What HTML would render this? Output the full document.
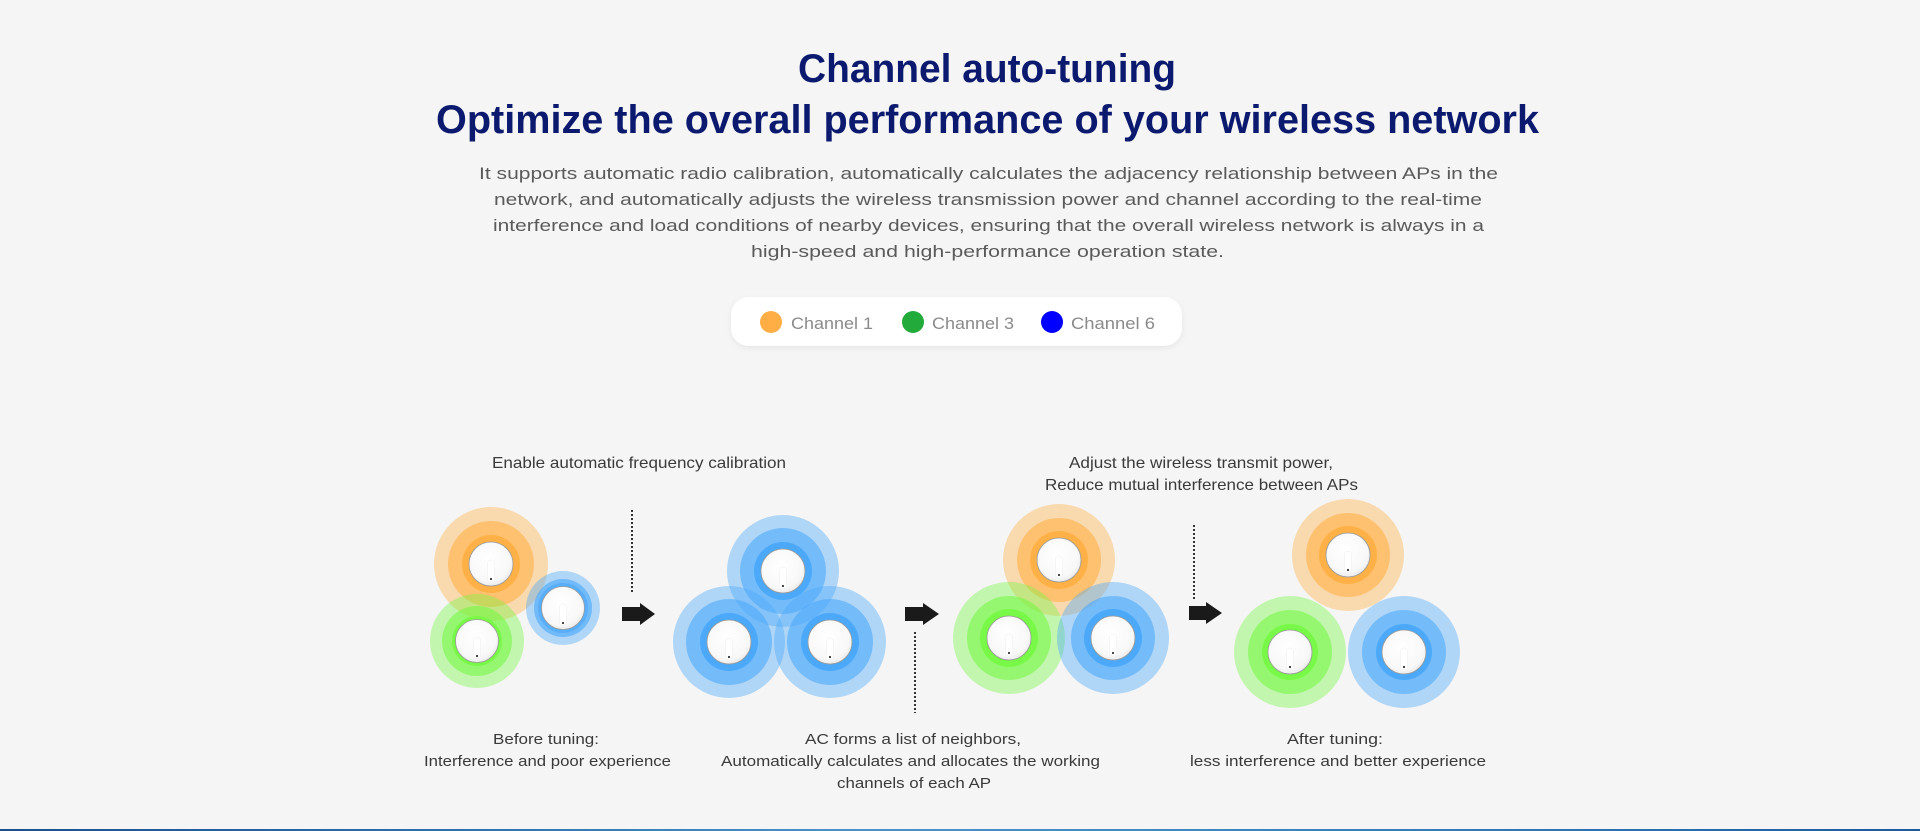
<!DOCTYPE html>
<html>
<head>
<meta charset="utf-8">
<style>
  html, body { margin: 0; padding: 0; }
  body { width: 1920px; height: 831px; overflow: hidden; background: #f5f5f5; position: relative; }
  svg { position: absolute; left: 0; top: 0; }
  .bar { position: absolute; left: 0; top: 829px; width: 1920px; height: 2px;
    background: linear-gradient(90deg, #1b4f90 0%, #2f72b0 25%, #4a93c8 45%, #3a86c0 65%, #2a70b0 85%, #1c5a9c 100%); }
</style>
</head>
<body>
<svg width="1920" height="831" viewBox="0 0 1920 831" xmlns="http://www.w3.org/2000/svg">
  <defs>
    <radialGradient id="dg" cx="45%" cy="40%" r="65%">
      <stop offset="0" stop-color="#ffffff"/>
      <stop offset="0.75" stop-color="#f8f8f8"/>
      <stop offset="1" stop-color="#e6e6e6"/>
    </radialGradient>
    <filter id="sh" x="-10%" y="-30%" width="120%" height="160%">
      <feDropShadow dx="0" dy="2" stdDeviation="3" flood-color="#000" flood-opacity="0.06"/>
    </filter>
  </defs>

  <!-- Title -->
  <g font-family="Liberation Sans, sans-serif" font-weight="bold" fill="#0b1a6e">
    <text x="798" y="82" font-size="40" textLength="378" lengthAdjust="spacingAndGlyphs">Channel auto-tuning</text>
    <text x="436" y="133" font-size="40" textLength="1103" lengthAdjust="spacingAndGlyphs">Optimize the overall performance of your wireless network</text>
  </g>

  <!-- Paragraph -->
  <g font-family="Liberation Sans, sans-serif" font-size="17" fill="#5a5a5a">
    <text x="479" y="179" textLength="1019" lengthAdjust="spacingAndGlyphs">It supports automatic radio calibration, automatically calculates the adjacency relationship between APs in the</text>
    <text x="494" y="205" textLength="988" lengthAdjust="spacingAndGlyphs">network, and automatically adjusts the wireless transmission power and channel according to the real-time</text>
    <text x="493" y="231" textLength="991" lengthAdjust="spacingAndGlyphs">interference and load conditions of nearby devices, ensuring that the overall wireless network is always in a</text>
    <text x="751" y="257" textLength="473" lengthAdjust="spacingAndGlyphs">high-speed and high-performance operation state.</text>
  </g>

  <!-- Legend -->
  <rect x="731" y="297" width="451" height="49" rx="18" ry="18" fill="#ffffff" filter="url(#sh)"/>
  <circle cx="771" cy="322" r="11" fill="#ffad45"/>
  <circle cx="913" cy="322" r="11" fill="#22aa3a"/>
  <circle cx="1052" cy="322" r="11" fill="#0000ff"/>
  <g font-family="Liberation Sans, sans-serif" font-size="17" fill="#8a8a8a">
    <text x="791" y="329" textLength="82" lengthAdjust="spacingAndGlyphs">Channel 1</text>
    <text x="932" y="329" textLength="82" lengthAdjust="spacingAndGlyphs">Channel 3</text>
    <text x="1071" y="329" textLength="84" lengthAdjust="spacingAndGlyphs">Channel 6</text>
  </g>

  <!-- Step labels -->
  <g font-family="Liberation Sans, sans-serif" font-size="16" fill="#3a3a3a">
    <text x="492" y="468" textLength="294" lengthAdjust="spacingAndGlyphs">Enable automatic frequency calibration</text>
    <text x="1069" y="468" textLength="264" lengthAdjust="spacingAndGlyphs">Adjust the wireless transmit power,</text>
    <text x="1045" y="490" textLength="313" lengthAdjust="spacingAndGlyphs">Reduce mutual interference between APs</text>
  </g>
  <g font-family="Liberation Sans, sans-serif" font-size="15" fill="#3a3a3a">
    <text x="493" y="744" textLength="106" lengthAdjust="spacingAndGlyphs">Before tuning:</text>
    <text x="424" y="766" textLength="247" lengthAdjust="spacingAndGlyphs">Interference and poor experience</text>
    <text x="805" y="744" textLength="216" lengthAdjust="spacingAndGlyphs">AC forms a list of neighbors,</text>
    <text x="721" y="766" textLength="379" lengthAdjust="spacingAndGlyphs">Automatically calculates and allocates the working</text>
    <text x="837" y="788" textLength="154" lengthAdjust="spacingAndGlyphs">channels of each AP</text>
    <text x="1287" y="744" textLength="96" lengthAdjust="spacingAndGlyphs">After tuning:</text>
    <text x="1190" y="766" textLength="296" lengthAdjust="spacingAndGlyphs">less interference and better experience</text>
  </g>

  <!-- Dotted lines -->
  <g stroke="#333" stroke-width="2" stroke-dasharray="2 2" fill="none">
    <line x1="632" y1="510" x2="632" y2="594"/>
    <line x1="915" y1="632" x2="915" y2="713"/>
    <line x1="1194" y1="525" x2="1194" y2="601"/>
  </g>

  <!-- Arrows -->
  <g fill="#1a1a1a">
    <path d="M622 607 H640 V603 L655 614 L640 625 V621 H622 Z"/>
    <path d="M905 607 H923 V603 L939 614 L923 625 V621 H905 Z"/>
    <path d="M1189 606 H1206 V602 L1222 613 L1206 624 V620 H1189 Z"/>
  </g>

  <!-- Scene 1 rings -->
  <g fill="rgb(255,175,67)">
    <circle cx="491" cy="564" r="57" fill-opacity="0.4"/>
    <circle cx="491" cy="564" r="43" fill-opacity="0.58"/>
    <circle cx="491" cy="564" r="29" fill-opacity="0.9"/>
  </g>
  <g fill="rgb(117,248,67)">
    <circle cx="477" cy="641" r="47" fill-opacity="0.4"/>
    <circle cx="477" cy="641" r="35" fill-opacity="0.58"/>
    <circle cx="477" cy="641" r="25" fill-opacity="0.9"/>
  </g>
  <g fill="rgb(72,167,250)">
    <circle cx="563" cy="608" r="37" fill-opacity="0.4"/>
    <circle cx="563" cy="608" r="29" fill-opacity="0.6"/>
    <circle cx="563" cy="608" r="25" fill-opacity="0.6"/>
  </g>

  <!-- Scene 2 rings -->
  <g fill="rgb(72,167,250)">
    <circle cx="783" cy="571" r="56" fill-opacity="0.4"/>
    <circle cx="783" cy="571" r="43" fill-opacity="0.58"/>
    <circle cx="783" cy="571" r="29" fill-opacity="0.9"/>
    <circle cx="729" cy="642" r="56" fill-opacity="0.4"/>
    <circle cx="729" cy="642" r="43" fill-opacity="0.58"/>
    <circle cx="729" cy="642" r="29" fill-opacity="0.9"/>
    <circle cx="830" cy="642" r="56" fill-opacity="0.4"/>
    <circle cx="830" cy="642" r="43" fill-opacity="0.58"/>
    <circle cx="830" cy="642" r="29" fill-opacity="0.9"/>
  </g>

  <!-- Scene 3 rings -->
  <g fill="rgb(255,175,67)">
    <circle cx="1059" cy="560" r="56" fill-opacity="0.4"/>
    <circle cx="1059" cy="560" r="42" fill-opacity="0.58"/>
    <circle cx="1059" cy="560" r="29" fill-opacity="0.9"/>
  </g>
  <g fill="rgb(117,248,67)">
    <circle cx="1009" cy="638" r="56" fill-opacity="0.4"/>
    <circle cx="1009" cy="638" r="42" fill-opacity="0.58"/>
    <circle cx="1009" cy="638" r="29" fill-opacity="0.9"/>
  </g>
  <g fill="rgb(72,167,250)">
    <circle cx="1113" cy="638" r="56" fill-opacity="0.4"/>
    <circle cx="1113" cy="638" r="42" fill-opacity="0.58"/>
    <circle cx="1113" cy="638" r="29" fill-opacity="0.9"/>
  </g>

  <!-- Scene 4 rings -->
  <g fill="rgb(255,175,67)">
    <circle cx="1348" cy="555" r="56" fill-opacity="0.4"/>
    <circle cx="1348" cy="555" r="42" fill-opacity="0.58"/>
    <circle cx="1348" cy="555" r="29" fill-opacity="0.9"/>
  </g>
  <g fill="rgb(117,248,67)">
    <circle cx="1290" cy="652" r="56" fill-opacity="0.4"/>
    <circle cx="1290" cy="652" r="42" fill-opacity="0.58"/>
    <circle cx="1290" cy="652" r="28" fill-opacity="0.9"/>
  </g>
  <g fill="rgb(72,167,250)">
    <circle cx="1404" cy="652" r="56" fill-opacity="0.4"/>
    <circle cx="1404" cy="652" r="42" fill-opacity="0.58"/>
    <circle cx="1404" cy="652" r="28" fill-opacity="0.9"/>
  </g>

  <!-- AP discs -->
  <g>
    <g transform="translate(491,564)"><circle r="22" fill="url(#dg)" stroke="#9a9a9a" stroke-width="0.8"/><rect x="-3.5" y="-4" width="7" height="22" rx="3.5" fill="#fff" stroke="#ececec" stroke-width="0.5"/><circle cy="15" r="1.1" fill="#333"/></g>
    <g transform="translate(477,641)"><circle r="21.5" fill="url(#dg)" stroke="#9a9a9a" stroke-width="0.8"/><rect x="-3.5" y="-4" width="7" height="21.5" rx="3.5" fill="#fff" stroke="#ececec" stroke-width="0.5"/><circle cy="15" r="1.1" fill="#333"/></g>
    <g transform="translate(563,608)"><circle r="21.5" fill="url(#dg)" stroke="#9a9a9a" stroke-width="0.8"/><rect x="-3.5" y="-4" width="7" height="21.5" rx="3.5" fill="#fff" stroke="#ececec" stroke-width="0.5"/><circle cy="15" r="1.1" fill="#333"/></g>

    <g transform="translate(783,571)"><circle r="22" fill="url(#dg)" stroke="#9a9a9a" stroke-width="0.8"/><rect x="-3.5" y="-4" width="7" height="22" rx="3.5" fill="#fff" stroke="#ececec" stroke-width="0.5"/><circle cy="15" r="1.1" fill="#333"/></g>
    <g transform="translate(729,642)"><circle r="22" fill="url(#dg)" stroke="#9a9a9a" stroke-width="0.8"/><rect x="-3.5" y="-4" width="7" height="22" rx="3.5" fill="#fff" stroke="#ececec" stroke-width="0.5"/><circle cy="15" r="1.1" fill="#333"/></g>
    <g transform="translate(830,642)"><circle r="22" fill="url(#dg)" stroke="#9a9a9a" stroke-width="0.8"/><rect x="-3.5" y="-4" width="7" height="22" rx="3.5" fill="#fff" stroke="#ececec" stroke-width="0.5"/><circle cy="15" r="1.1" fill="#333"/></g>

    <g transform="translate(1059,560)"><circle r="22" fill="url(#dg)" stroke="#9a9a9a" stroke-width="0.8"/><rect x="-3.5" y="-4" width="7" height="22" rx="3.5" fill="#fff" stroke="#ececec" stroke-width="0.5"/><circle cy="15" r="1.1" fill="#333"/></g>
    <g transform="translate(1009,638)"><circle r="22" fill="url(#dg)" stroke="#9a9a9a" stroke-width="0.8"/><rect x="-3.5" y="-4" width="7" height="22" rx="3.5" fill="#fff" stroke="#ececec" stroke-width="0.5"/><circle cy="15" r="1.1" fill="#333"/></g>
    <g transform="translate(1113,638)"><circle r="22" fill="url(#dg)" stroke="#9a9a9a" stroke-width="0.8"/><rect x="-3.5" y="-4" width="7" height="22" rx="3.5" fill="#fff" stroke="#ececec" stroke-width="0.5"/><circle cy="15" r="1.1" fill="#333"/></g>

    <g transform="translate(1348,555)"><circle r="22" fill="url(#dg)" stroke="#9a9a9a" stroke-width="0.8"/><rect x="-3.5" y="-4" width="7" height="22" rx="3.5" fill="#fff" stroke="#ececec" stroke-width="0.5"/><circle cy="15" r="1.1" fill="#333"/></g>
    <g transform="translate(1290,652)"><circle r="22" fill="url(#dg)" stroke="#9a9a9a" stroke-width="0.8"/><rect x="-3.5" y="-4" width="7" height="22" rx="3.5" fill="#fff" stroke="#ececec" stroke-width="0.5"/><circle cy="15" r="1.1" fill="#333"/></g>
    <g transform="translate(1404,652)"><circle r="22" fill="url(#dg)" stroke="#9a9a9a" stroke-width="0.8"/><rect x="-3.5" y="-4" width="7" height="22" rx="3.5" fill="#fff" stroke="#ececec" stroke-width="0.5"/><circle cy="15" r="1.1" fill="#333"/></g>
  </g>
</svg>
<div class="bar"></div>
</body>
</html>
